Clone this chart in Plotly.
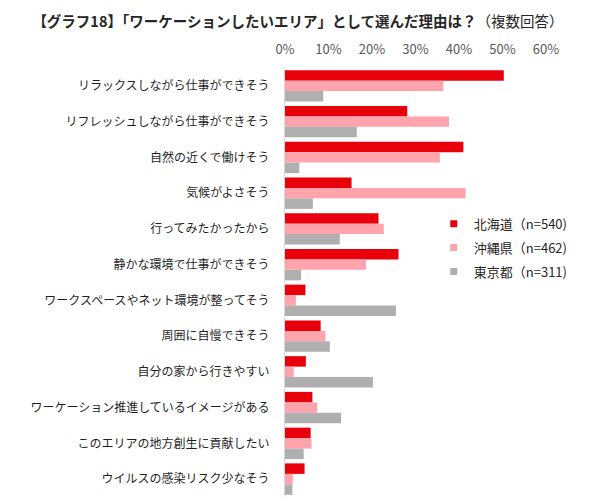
import plotly.graph_objects as go

categories = [
    "リラックスしながら仕事ができそう",
    "リフレッシュしながら仕事ができそう",
    "自然の近くで働けそう",
    "気候がよさそう",
    "行ってみたかったから",
    "静かな環境で仕事ができそう",
    "ワークスペースやネット環境が整ってそう",
    "周囲に自慢できそう",
    "自分の家から行きやすい",
    "ワーケーション推進しているイメージがある",
    "このエリアの地方創生に貢献したい",
    "ウイルスの感染リスク少なそう",
]

hokkaido = [50.3, 28.1, 41.0, 15.3, 21.5, 26.1, 4.7, 8.2, 4.8, 6.3, 5.9, 4.5]
okinawa = [36.4, 37.7, 35.6, 41.5, 22.7, 18.6, 2.5, 9.3, 2.0, 7.4, 6.1, 1.8]
tokyo = [8.8, 16.5, 3.3, 6.4, 12.6, 3.7, 25.5, 10.3, 20.2, 12.9, 4.3, 1.7]

series_names = ["北海道（n=540)", "沖縄県（n=462)", "東京都（n=311)"]
series_values = [hokkaido, okinawa, tokyo]
series_colors = ["#E8000B", "#FFA3AD", "#AFAFAF"]

tick_vals = [0, 10, 20, 30, 40, 50, 60]
tick_text = ["0%", "10%", "20%", "30%", "40%", "50%", "60%"]

FONT = "Noto Sans CJK JP, Noto Sans, sans-serif"

fig = go.Figure()
for name, vals, col in zip(series_names, series_values, series_colors):
    fig.add_trace(go.Bar(
        y=categories, x=vals, name=name, orientation="h",
        marker=dict(color=col, line=dict(width=0)),
        showlegend=False,
    ))
# legend entries with small square markers
for name, col in zip(series_names, series_colors):
    fig.add_trace(go.Scatter(
        x=[None], y=[None], mode="markers", name=name,
        marker=dict(symbol="square", size=7, color=col),
        legendgroup=name, showlegend=True,
    ))

fig.update_layout(
    width=590, height=504,
    margin=dict(l=285, r=44, t=68, b=7),
    paper_bgcolor="white", plot_bgcolor="white",
    barmode="group", bargap=0.12, bargroupgap=0.0,
    font=dict(family=FONT, color="#262626"),
    title=dict(
        text="<b>【グラフ18】「ワーケーションしたいエリア」として選んだ理由は？</b>（複数回答）",
        x=0.505, xref="container", xanchor="center",
        y=1 - 22 / 504, yref="container", yanchor="middle",
        font=dict(size=14.5, color="#262626", family=FONT),
    ),
    legend=dict(
        x=0.57, y=0.672, xanchor="left", yanchor="top",
        bgcolor="rgba(0,0,0,0)",
        font=dict(size=13, color="#262626", family=FONT),
        traceorder="grouped", tracegroupgap=4,
        itemwidth=30,
    ),
    showlegend=True,
)

fig.update_xaxes(
    side="top", range=[0, 60], tickvals=tick_vals, ticktext=tick_text,
    showgrid=False, zeroline=False, showline=False,
    ticks="outside", ticklen=8, tickcolor="rgba(0,0,0,0)",
    tickfont=dict(size=13, color="#595959", family=FONT),
    fixedrange=True,
)
fig.update_yaxes(
    autorange="reversed", showgrid=False, zeroline=False,
    showline=True, linecolor="#D9D9D9", linewidth=1,
    ticks="outside", ticklen=12, tickcolor="rgba(0,0,0,0)",
    tickfont=dict(size=12, color="#1F1F1F", family=FONT),
    fixedrange=True,
)

fig.write_html("out.html")
